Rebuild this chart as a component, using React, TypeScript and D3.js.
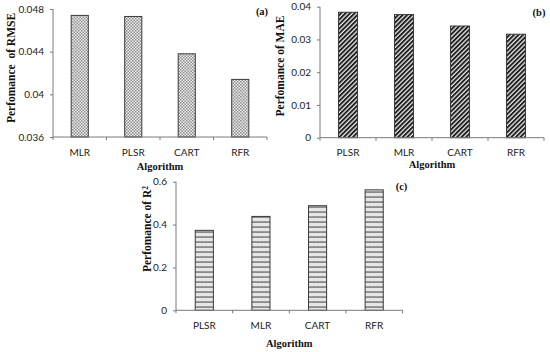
import React, { useRef, useEffect } from "react";
import * as d3 from "d3";

// panel (a) RMSE
const rmseCategories = ["MLR", "PLSR", "CART", "RFR"];
const rmseValues = [0.0474, 0.0473, 0.0438, 0.0414];
const rmseTicks = [0.036, 0.04, 0.044, 0.048];

// panel (b) MAE
const maeCategories = ["PLSR", "MLR", "CART", "RFR"];
const maeValues = [0.0383, 0.0376, 0.0341, 0.0316];
const maeTicks = [0, 0.01, 0.02, 0.03, 0.04];

// panel (c) R2
const r2Categories = ["PLSR", "MLR", "CART", "RFR"];
const r2Values = [0.373, 0.438, 0.488, 0.562];
const r2Ticks = [0, 0.2, 0.4, 0.6];

const tickFont = "Lato, 'Liberation Sans', sans-serif";
const titleFont = "'Liberation Serif', 'Times New Roman', serif";

const App = () => {
  const svgRef = useRef(null);

  useEffect(() => {
    const svg = d3.select(svgRef.current);
    svg.selectAll("*").remove();

    const defs = svg.append("defs");

    // fine checker (a)
    const pA = defs
      .append("pattern")
      .attr("id", "patA")
      .attr("width", 3)
      .attr("height", 3)
      .attr("patternUnits", "userSpaceOnUse");
    pA.append("rect").attr("width", 3).attr("height", 3).attr("fill", "#f2f2f2");
    pA.append("rect").attr("x", 0).attr("y", 0).attr("width", 1.5).attr("height", 1.5).attr("fill", "#8a8a8a");
    pA.append("rect").attr("x", 1.5).attr("y", 1.5).attr("width", 1.5).attr("height", 1.5).attr("fill", "#8a8a8a");

    // dark diagonal (b)
    const pB = defs
      .append("pattern")
      .attr("id", "patB")
      .attr("width", 3.2)
      .attr("height", 3.2)
      .attr("patternUnits", "userSpaceOnUse")
      .attr("patternTransform", "rotate(45)");
    pB.append("rect").attr("width", 3.2).attr("height", 3.2).attr("fill", "#e8e8e8");
    pB.append("rect").attr("width", 1.9).attr("height", 3.2).attr("fill", "#1e1e1e");

    // horizontal zigzag (c)
    const pC = defs
      .append("pattern")
      .attr("id", "patC")
      .attr("width", 4)
      .attr("height", 5)
      .attr("patternUnits", "userSpaceOnUse");
    pC.append("rect").attr("width", 4).attr("height", 5).attr("fill", "#e6e6e6");
    pC.append("path")
      .attr("d", "M0,3 L1,1.2 L2,3 L3,1.2 L4,3")
      .attr("fill", "none")
      .attr("stroke", "#6a6a6a")
      .attr("stroke-width", 0.9);

    const drawPanel = (opts) => {
      const {
        categories,
        values,
        ticks,
        tickFmt,
        left,
        right,
        top,
        bottom,
        domain,
        pad,
        fill,
        yLabel,
        yLabelX,
        yLabelY,
        tag,
        tagX,
        tagY,
        catY,
        algY,
      } = opts;
      const g = svg.append("g");

      const x = d3
        .scaleBand()
        .domain(categories)
        .range([left, right])
        .paddingInner(pad)
        .paddingOuter(pad / 2);
      const y = d3.scaleLinear().domain(domain).range([bottom, top]);

      g.selectAll(".bar")
        .data(values)
        .enter()
        .append("rect")
        .attr("x", (d, i) => x(categories[i]))
        .attr("y", (d) => y(d))
        .attr("width", x.bandwidth())
        .attr("height", (d) => bottom - y(d))
        .attr("fill", fill)
        .attr("stroke", "#3a3a3a")
        .attr("stroke-width", 1);

      // y axis
      const yAxis = g
        .append("g")
        .attr("transform", `translate(${left},0)`)
        .call(
          d3
            .axisLeft(y)
            .tickValues(ticks)
            .tickSize(3)
            .tickPadding(6)
            .tickFormat(tickFmt)
        );
      yAxis.select(".domain").attr("stroke", "#7a7a7a").attr("d", `M0,${top}V${bottom}`);
      yAxis.selectAll("line").attr("stroke", "#7a7a7a");
      yAxis
        .selectAll("text")
        .style("font-family", tickFont)
        .style("font-size", "10px")
        .attr("fill", "#222");

      // x axis baseline + boundary ticks
      g.append("line")
        .attr("x1", left)
        .attr("x2", right)
        .attr("y1", bottom)
        .attr("y2", bottom)
        .attr("stroke", "#7a7a7a");
      d3.range(categories.length + 1).forEach((i) => {
        const xx = left + i * x.step();
        g.append("line")
          .attr("x1", xx)
          .attr("x2", xx)
          .attr("y1", bottom)
          .attr("y2", bottom + 3)
          .attr("stroke", "#7a7a7a");
      });
      g.selectAll(".cat")
        .data(categories)
        .enter()
        .append("text")
        .attr("x", (d) => x(d) + x.bandwidth() / 2)
        .attr("y", catY)
        .attr("dy", "0.35em")
        .attr("text-anchor", "middle")
        .style("font-family", tickFont)
        .style("font-size", "10px")
        .attr("fill", "#222")
        .text((d) => d);

      g.append("text")
        .attr("x", (left + right) / 2)
        .attr("y", algY)
        .attr("dy", "0.35em")
        .attr("text-anchor", "middle")
        .style("font-family", titleFont)
        .style("font-size", "10.5px")
        .style("font-weight", "bold")
        .attr("fill", "#111")
        .text("Algorithm");

      const yl = g
        .append("text")
        .attr("transform", `translate(${yLabelX},${yLabelY}) rotate(-90)`)
        .attr("dy", "0.35em")
        .attr("text-anchor", "middle")
        .style("font-family", titleFont)
        .style("font-size", "11.5px")
        .style("font-weight", "bold")
        .style("white-space", "pre")
        .attr("fill", "#111");
      yLabel(yl);

      g.append("text")
        .attr("x", tagX)
        .attr("y", tagY)
        .attr("dy", "0.35em")
        .attr("text-anchor", "middle")
        .style("font-family", titleFont)
        .style("font-size", "10.5px")
        .style("font-weight", "bold")
        .attr("fill", "#111")
        .text(tag);
    };

    drawPanel({
      categories: rmseCategories,
      values: rmseValues,
      ticks: rmseTicks,
      tickFmt: (d) => (d === 0.04 ? "0.04" : d3.format(".3f")(d)),
      left: 53,
      right: 267,
      top: 9,
      bottom: 137,
      domain: [0.036, 0.048],
      pad: 0.68,
      fill: "url(#patA)",
      yLabel: (t) => t.text("Perfomance  of RMSE"),
      yLabelX: 11,
      yLabelY: 68,
      tag: "(a)",
      tagX: 262,
      tagY: 11,
      catY: 152,
      algY: 166,
    });

    drawPanel({
      categories: maeCategories,
      values: maeValues,
      ticks: maeTicks,
      tickFmt: (d) => (d === 0 ? "0" : d3.format(".2f")(d)),
      left: 320,
      right: 544,
      top: 6.7,
      bottom: 137.7,
      domain: [0, 0.04],
      pad: 0.66,
      fill: "url(#patB)",
      yLabel: (t) => t.text("Perfomance of MAE"),
      yLabelX: 280,
      yLabelY: 66,
      tag: "(b)",
      tagX: 539,
      tagY: 12,
      catY: 152,
      algY: 164,
    });

    drawPanel({
      categories: r2Categories,
      values: r2Values,
      ticks: r2Ticks,
      tickFmt: (d) => (d === 0 ? "0" : d3.format(".1f")(d)),
      left: 176,
      right: 402.5,
      top: 181.7,
      bottom: 310.3,
      domain: [0, 0.6],
      pad: 0.68,
      fill: "url(#patC)",
      yLabel: (t) => {
        t.append("tspan").text("Perfomance of R");
        t.append("tspan").attr("dy", "-0.45em").style("font-size", "7.5px").text("2");
      },
      yLabelX: 147,
      yLabelY: 229,
      tag: "(c)",
      tagX: 401.5,
      tagY: 186,
      catY: 325,
      algY: 343,
    });
  }, []);

  return (
    <svg
      ref={svgRef}
      width={550}
      height={352}
      style={{ position: "absolute", left: 0, top: 0, background: "#fff" }}
    />
  );
};

export default App;
